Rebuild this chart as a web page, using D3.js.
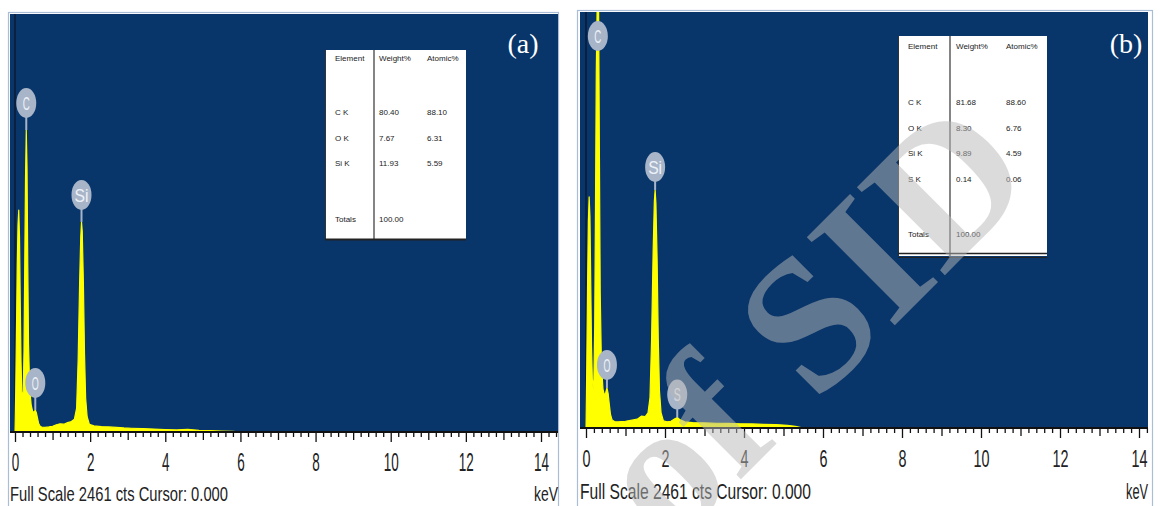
<!DOCTYPE html>
<html>
<head>
<meta charset="utf-8">
<script src="https://cdn.jsdelivr.net/npm/d3@7"></script>
<style>
  html, body { margin: 0; padding: 0; background: #fff; }
  svg { display: block; }
</style>
</head>
<body>
<svg id="chart" width="1160" height="506"></svg>
<script>
const fullScale = 2461
const cursorKeV = 0
const tickLabels = [0, 2, 4, 6, 8, 10, 12, 14]
const panelNames = ['(a)', '(b)']

// spectrum (a)
const energyA = [0.00, 0.02, 0.04, 0.06, 0.08, 0.10, 0.12, 0.14, 0.16, 0.18, 0.20, 0.22, 0.24, 0.26, 0.28, 0.30,
  0.32, 0.34, 0.36, 0.39, 0.43, 0.47, 0.51, 0.54, 0.57, 0.60, 0.63, 0.67, 0.72, 0.80, 0.90, 1.00, 1.10, 1.20,
  1.30, 1.40, 1.50, 1.58, 1.64, 1.68, 1.72, 1.75, 1.77, 1.79, 1.82, 1.85, 1.88, 1.92, 1.98, 2.10, 2.30, 2.50,
  2.70, 2.90, 3.10, 3.40, 3.70, 4.00, 4.30, 4.60, 4.90, 5.20, 5.50, 5.80, 6.00]
const countsA = [0, 250, 620, 980, 1220, 1307, 1150, 760, 420, 240, 200, 240, 480, 1000, 1500, 1778,
  1560, 980, 520, 260, 160, 120, 118, 130, 112, 80, 50, 34, 28, 27, 30, 34, 42, 48,
  46, 55, 62, 75, 140, 420, 880, 1150, 1237, 1180, 880, 460, 200, 90, 45, 36, 32, 30,
  27, 24, 22, 20, 17, 14, 12, 15, 10, 8, 6, 4, 0]

// spectrum (b)
const energyB = [0.00, 0.02, 0.04, 0.06, 0.08, 0.10, 0.12, 0.14, 0.16, 0.18, 0.20, 0.22, 0.24, 0.26, 0.28, 0.30,
  0.32, 0.34, 0.36, 0.39, 0.43, 0.47, 0.50, 0.53, 0.56, 0.59, 0.62, 0.66, 0.72, 0.80, 0.90, 1.00, 1.10, 1.20,
  1.30, 1.40, 1.50, 1.57, 1.62, 1.66, 1.70, 1.73, 1.75, 1.77, 1.80, 1.83, 1.86, 1.90, 1.96, 2.05, 2.15, 2.25,
  2.31, 2.37, 2.50, 2.70, 3.00, 3.30, 3.60, 3.90, 4.20, 4.50, 4.80, 5.10, 5.30, 5.50]
const countsB = [0, 380, 850, 1220, 1367, 1250, 860, 480, 290, 230, 290, 600, 1300, 2100, 2461, 2600,
  2461, 1600, 800, 380, 230, 190, 210, 237, 205, 140, 80, 48, 38, 36, 38, 40, 44, 48,
  52, 70, 68, 90, 180, 520, 1050, 1340, 1408, 1330, 1000, 520, 220, 90, 42, 36, 40, 55,
  62, 50, 36, 32, 30, 28, 27, 25, 24, 22, 20, 16, 10, 0]

const markerNamesA = ['C', 'O', 'Si']
const markerEnergyA = [0.30, 0.54, 1.77]
const markerNamesB = ['C', 'O', 'Si', 'S']
const markerEnergyB = [0.30, 0.53, 1.75, 2.31]

const tableHeader = ['Element', 'Weight%', 'Atomic%']
const elementA = ['C K', 'O K', 'Si K']
const weightA = ['80.40', '7.67', '11.93']
const atomicA = ['88.10', '6.31', '5.59']
const elementB = ['C K', 'O K', 'Si K', 'S K']
const weightB = ['81.68', '8.30', '9.89', '0.14']
const atomicB = ['88.60', '6.76', '4.59', '0.06']
const totalLabel = 'Totals'
const totalWeight = '100.00'
const watermark = 'of SID'

const bgBlue = '#08356a'
const specYellow = '#ffff00'
const markerFill = '#a8b5c8'
const frameColor = '#a9bdd6'

const layout = [
  {left: 10, right: 558, top: 14, axisY: 432, x0: 15, x14: 541, frame: [8.5, 12.5, 550],
    labelOffset: 27, tickFont: 25, tickCharW: 7.5, tickPad: 11, footY: 501, footFont: 21, footW: 218, kevW: 24,
    nameX: 523, nameY: 53,
    table: {x: 325, y: 50, w: 141, h: 189, divX: 374, cols: [335, 379, 427], headY: 61, rowY0: 115, rowStep: 25.5,
      totalY: 222, lines: [[239.5, 2]]}},
  {left: 580, right: 1148, top: 12, axisY: 428, x0: 586, x14: 1139, frame: [577.5, 10.5, 575],
    labelOffset: 23, tickFont: 24, tickCharW: 8, tickPad: 12, footY: 499, footFont: 22, footW: 231, kevW: 22,
    nameX: 1126, nameY: 53,
    table: {x: 898, y: 36, w: 149, h: 220, divX: 950, cols: [908, 956, 1006], headY: 49, rowY0: 105, rowStep: 25.7,
      totalY: 237, lines: [[253.5, 1.6], [257.5, 1.2]]}}
]

const panels = [
  {energy: energyA, counts: countsA, names: markerNamesA, marks: markerEnergyA,
    elements: elementA, weight: weightA, atomic: atomicA},
  {energy: energyB, counts: countsB, names: markerNamesB, marks: markerEnergyB,
    elements: elementB, weight: weightB, atomic: atomicB}
]

let svg = d3.select('#chart')
const sansFont = 'Liberation Sans, Arial, sans-serif'

let plotPanel = function (i) {
  let p = layout[i]
  let d = panels[i]
  let g = svg.append('g').classed('panel', true)

  let xScale = d3.scaleLinear().domain([0, 14]).range([p.x0, p.x14])
  let yScale = d3.scaleLinear().domain([0, fullScale]).range([p.axisY, p.top]).clamp(true)

  // frame + plot background
  g.append('rect')
    .attr('x', p.frame[0]).attr('y', p.frame[1])
    .attr('width', p.frame[2]).attr('height', 510)
    .style('fill', '#fff').style('stroke', frameColor).style('stroke-width', 1.2)
  g.append('rect')
    .attr('x', p.left).attr('y', p.top)
    .attr('width', p.right - p.left).attr('height', p.axisY - p.top)
    .style('fill', bgBlue)

  let clipId = `clip${i}`
  g.append('clipPath').attr('id', clipId)
    .append('rect')
    .attr('x', p.left).attr('y', p.top)
    .attr('width', p.right - p.left).attr('height', p.axisY - p.top)

  // cursor at 0 keV
  g.append('line')
    .attr('x1', xScale(cursorKeV)).attr('x2', xScale(cursorKeV))
    .attr('y1', p.top).attr('y2', p.axisY)
    .style('stroke', '#0c1a30').style('stroke-width', 1.5)

  let pts = d.energy.map((e, k) => ({e: e, c: d.counts[k]}))
  let area = d3.area()
    .x(v => xScale(v.e))
    .y0(yScale(0))
    .y1(v => yScale(v.c))
  g.append('path')
    .attr('clip-path', `url(#${clipId})`)
    .attr('d', area(pts))
    .style('fill', specYellow)
    .style('stroke', specYellow)
    .style('stroke-width', 1.2)
    .style('stroke-linejoin', 'round')

  // element markers
  let markers = g.append('g').classed('markers', true)
    .selectAll('g')
    .data(d.marks.map((e, k) => {
      let peak = d3.max(pts.filter(v => Math.abs(v.e - e) <= 0.021), v => v.c)
      return {name: d.names[k], e: e, peak: peak}
    }))
    .enter()
    .append('g')
  markers.each(function (m) {
    let mg = d3.select(this)
    let px = xScale(m.e)
    let py = yScale(m.peak)
    let cy = Math.max(py - p.labelOffset, p.top + 24)
    mg.append('line')
      .attr('x1', px).attr('x2', px)
      .attr('y1', cy + 10).attr('y2', Math.max(py, cy + 10))
      .style('stroke', markerFill).style('stroke-width', 2)
    mg.append('ellipse')
      .attr('cx', px).attr('cy', cy)
      .attr('rx', 10).attr('ry', 15)
      .style('fill', markerFill)
    mg.append('text')
      .attr('x', px).attr('y', cy)
      .attr('dy', '0.35em')
      .attr('text-anchor', 'middle')
      .attr('textLength', m.name.length * 7)
      .attr('lengthAdjust', 'spacingAndGlyphs')
      .style('font-family', sansFont)
      .style('font-size', '19px')
      .style('fill', '#eef2f8')
      .text(m.name)
  })

  // axis
  g.append('line')
    .attr('x1', p.left).attr('x2', p.right)
    .attr('y1', p.axisY).attr('y2', p.axisY)
    .style('stroke', '#111').style('stroke-width', 2)
  let maxKeV = xScale.invert(p.right)
  let minor = d3.range(0, maxKeV, 0.2).filter(v => Math.abs(v - Math.round(v)) > 0.01)
  let odd = d3.range(1, maxKeV, 2)
  let axisMinor = g.append('g')
    .attr('transform', `translate(0, ${p.axisY})`)
    .call(d3.axisBottom(xScale).tickValues(minor).tickSize(5).tickFormat(''))
  let axisOdd = g.append('g')
    .attr('transform', `translate(0, ${p.axisY})`)
    .call(d3.axisBottom(xScale).tickValues(odd).tickSize(8).tickFormat(''))
  let axisMajor = g.append('g')
    .attr('transform', `translate(0, ${p.axisY})`)
    .call(d3.axisBottom(xScale).tickValues(tickLabels).tickSize(10).tickPadding(p.tickPad))
  ;[axisMinor, axisOdd, axisMajor].forEach(a => {
    a.select('.domain').remove()
    a.selectAll('.tick line').style('stroke', '#111').style('stroke-width', 1.3)
  })
  axisMajor.selectAll('.tick text')
    .style('font-family', sansFont)
    .style('font-size', p.tickFont + 'px')
    .style('fill', '#222')
    .attr('textLength', v => String(v).length * p.tickCharW)
    .attr('lengthAdjust', 'spacingAndGlyphs')

  g.append('text')
    .attr('x', p.left).attr('y', p.footY)
    .attr('textLength', p.footW)
    .attr('lengthAdjust', 'spacingAndGlyphs')
    .style('font-family', sansFont)
    .style('font-size', p.footFont + 'px')
    .style('fill', '#222')
    .text(`Full Scale ${fullScale} cts Cursor: ${cursorKeV.toFixed(3)}`)
  g.append('text')
    .attr('x', p.right).attr('y', p.footY)
    .attr('text-anchor', 'end')
    .attr('textLength', p.kevW)
    .attr('lengthAdjust', 'spacingAndGlyphs')
    .style('font-family', sansFont)
    .style('font-size', p.footFont + 'px')
    .style('fill', '#222')
    .text('keV')

  // quantification table
  let t = p.table
  let tg = g.append('g').classed('table', true)
  tg.append('rect')
    .attr('x', t.x).attr('y', t.y).attr('width', t.w).attr('height', t.h)
    .style('fill', '#fff')
  tg.append('line')
    .attr('x1', t.x + 0.5).attr('x2', t.x + 0.5).attr('y1', t.y).attr('y2', t.y + t.h)
    .style('stroke', '#333').style('stroke-width', 1)
  tg.append('line')
    .attr('x1', t.divX).attr('x2', t.divX).attr('y1', t.y).attr('y2', t.y + t.h)
    .style('stroke', '#333').style('stroke-width', 1.2)
  t.lines.forEach(l => {
    tg.append('line')
      .attr('x1', t.x).attr('x2', t.x + t.w).attr('y1', l[0]).attr('y2', l[0])
      .style('stroke', '#222').style('stroke-width', l[1])
  })
  let rows = [tableHeader].concat(d.elements.map((el, k) => [el, d.weight[k], d.atomic[k]]))
  let rowY = rows.map((r, k) => k === 0 ? t.headY : t.rowY0 + (k - 1) * t.rowStep)
  rows.push([totalLabel, totalWeight, ''])
  rowY.push(t.totalY)
  rows.forEach((r, k) => {
    tg.selectAll(null)
      .data(r)
      .enter()
      .append('text')
      .attr('x', (v, c) => t.cols[c])
      .attr('y', rowY[k])
      .style('font-family', sansFont)
      .style('font-size', '8px')
      .style('fill', '#222')
      .text(v => v)
  })

  g.append('text')
    .attr('x', p.nameX).attr('y', p.nameY)
    .attr('text-anchor', 'middle')
    .style('font-family', 'Liberation Serif, Times New Roman, serif')
    .style('font-size', '28px')
    .style('fill', '#fff')
    .text(panelNames[i])
}

plotPanel(0)
plotPanel(1)

// archive watermark over panel (b)
svg.append('text')
  .attr('transform', 'translate(670, 550) rotate(-45)')
  .style('font-family', 'Liberation Serif, Times New Roman, serif')
  .style('font-size', '190px')
  .style('font-weight', 'bold')
  .style('fill', '#b8b8b8')
  .style('opacity', 0.5)
  .text(watermark)
</script>
</body>
</html>
